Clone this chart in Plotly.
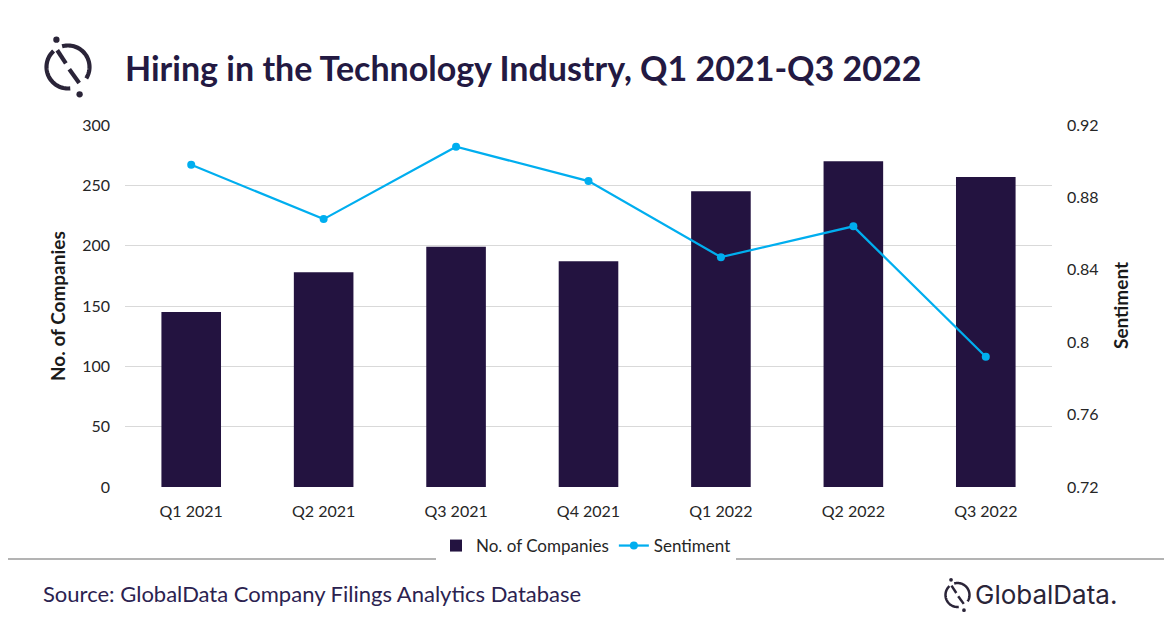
import numpy as np
import plotly.graph_objects as go

categories = ["Q1 2021", "Q2 2021", "Q3 2021", "Q4 2021", "Q1 2022", "Q2 2022", "Q3 2022"]
companies = [145, 178, 199, 187, 245, 270, 257]
sentiment = [0.898, 0.868, 0.908, 0.889, 0.847, 0.864, 0.792]
left_ticks = [0, 50, 100, 150, 200, 250, 300]
right_ticks = [0.72, 0.76, 0.80, 0.84, 0.88, 0.92]
right_tick_text = ["0.72", "0.76", "0.8", "0.84", "0.88", "0.92"]

TITLE = "Hiring in the Technology Industry, Q1 2021-Q3 2022"
SOURCE = "Source: GlobalData Company Filings Analytics Database"

# page frame (browser adds an 8px body margin)
OFF = 8
W, H = 1172, 628
PL, PR, PT, PB = 125, 1052, 125, 487  # plot area in page pixels
FW, FH = W - 2 * OFF, H - 2 * OFF
ML, MT = PL - OFF, PT - OFF
MR, MB = FW - (PR - OFF), FH - (PB - OFF)
PW, PH = PR - PL, PB - PT

BAR = "#231340"
LINE = "#00AEEF"
DARK = "#2a2438"
FONT = "Lato, 'Open Sans', sans-serif"


def px(x):
    return (x - PL) / PW


def py(y):
    return (PB - y) / PH


fig = go.Figure()
fig.add_trace(go.Bar(
    x=categories, y=companies, name="No. of Companies",
    marker=dict(color=BAR, line=dict(width=0)), yaxis="y",
))
fig.add_trace(go.Scatter(
    x=categories, y=sentiment, name="Sentiment", mode="lines+markers",
    line=dict(color=LINE, width=2.25), marker=dict(color=LINE, size=8),
    yaxis="y2",
))

shapes = []


def arc_path(cx, cy, r, a0, a1, n=40):
    t = np.radians(np.linspace(a0, a1, n))
    xs = cx + r * np.cos(t)
    ys = cy - r * np.sin(t)
    pts = [f"{px(x):.5f},{py(y):.5f}" for x, y in zip(xs, ys)]
    return "M" + " L".join(pts)


def seg_path(x0, y0, x1, y1):
    return f"M{px(x0):.5f},{py(y0):.5f} L{px(x1):.5f},{py(y1):.5f}"


def logo(cx, cy, r, lw):
    out = []
    for p in [arc_path(cx, cy, r, 132, 276), arc_path(cx, cy, r, 106, -32)]:
        out.append(dict(type="path", path=p, xref="paper", yref="paper",
                        line=dict(color=DARK, width=lw)))
    for (a, b, c, d) in [(-0.50, -0.78, -0.10, -0.17), (0.06, 0.10, 0.52, 0.74)]:
        out.append(dict(type="path", path=seg_path(cx + a * r, cy + b * r, cx + c * r, cy + d * r),
                        xref="paper", yref="paper", line=dict(color=DARK, width=lw)))
    for ang in (113, -67):
        t = np.radians(ang)
        dx, dy = cx + 1.38 * r * np.cos(t), cy - 1.38 * r * np.sin(t)
        rr = lw * 0.75
        out.append(dict(type="circle", xref="paper", yref="paper",
                        x0=px(dx - rr), x1=px(dx + rr), y0=py(dy + rr), y1=py(dy - rr),
                        fillcolor=DARK, line=dict(width=0)))
    return out


shapes += logo(68, 67, 21.5, 4.2)
shapes += logo(957.5, 595, 12, 2.5)
shapes.append(dict(type="line", xref="paper", yref="paper",
                   x0=px(0), x1=px(W + 20), y0=py(559), y1=py(559),
                   line=dict(color="#9a9a9a", width=1.5)))

annotations = [
    dict(text=f"<b>{TITLE}</b>", xref="paper", yref="paper", x=px(123), y=py(67),
         xanchor="left", yanchor="middle", showarrow=False,
         font=dict(family=FONT, size=34, color="#231942")),
    dict(text="<b>No. of Companies</b>", xref="paper", yref="paper", x=px(57), y=0.5,
         xanchor="center", yanchor="middle", showarrow=False, textangle=-90,
         font=dict(family=FONT, size=19, color="#1a1a1a")),
    dict(text="<b>Sentiment</b>", xref="paper", yref="paper", x=px(1120), y=0.5,
         xanchor="center", yanchor="middle", showarrow=False, textangle=-90,
         font=dict(family=FONT, size=19, color="#1a1a1a")),
    dict(text=SOURCE, xref="paper", yref="paper", x=px(41), y=py(593),
         xanchor="left", yanchor="middle", showarrow=False,
         font=dict(family=FONT, size=22, color="#2b2250")),
    dict(text="GlobalData.", xref="paper", yref="paper", x=px(973), y=py(594),
         xanchor="left", yanchor="middle", showarrow=False,
         font=dict(family="Inter, Lato, sans-serif", size=26, color=DARK)),
]

fig.update_layout(
    width=FW, height=FH,
    margin=dict(l=ML, r=MR, t=MT, b=MB, autoexpand=False),
    paper_bgcolor="white", plot_bgcolor="white",
    bargap=0.55,
    font=dict(family=FONT, size=16, color="#262626"),
    xaxis=dict(showline=False, showgrid=False, zeroline=False, ticks="",
               ticklabelstandoff=13, tickfont=dict(size=16, color="#262626")),
    yaxis=dict(range=[0, 300], tickvals=left_ticks, showgrid=True,
               gridcolor="#d9d9d9", gridwidth=1, zeroline=False, showline=False,
               ticks="", ticklabelstandoff=14, tickfont=dict(size=16, color="#262626")),
    yaxis2=dict(range=[0.72, 0.92], tickvals=right_ticks, ticktext=right_tick_text,
                overlaying="y", side="right", showgrid=False, zeroline=False,
                showline=False, ticks="", ticklabelstandoff=14,
                tickfont=dict(size=16, color="#262626")),
    legend=dict(orientation="h", xref="container", yref="container",
                x=(586 - OFF) / FW, xanchor="center", y=1 - (546 - OFF) / FH, yanchor="middle",
                font=dict(size=17, color="#262626"), traceorder="normal",
                itemwidth=30),
    shapes=shapes,
    annotations=annotations,
    showlegend=True,
)

fig.write_html("out.html")
